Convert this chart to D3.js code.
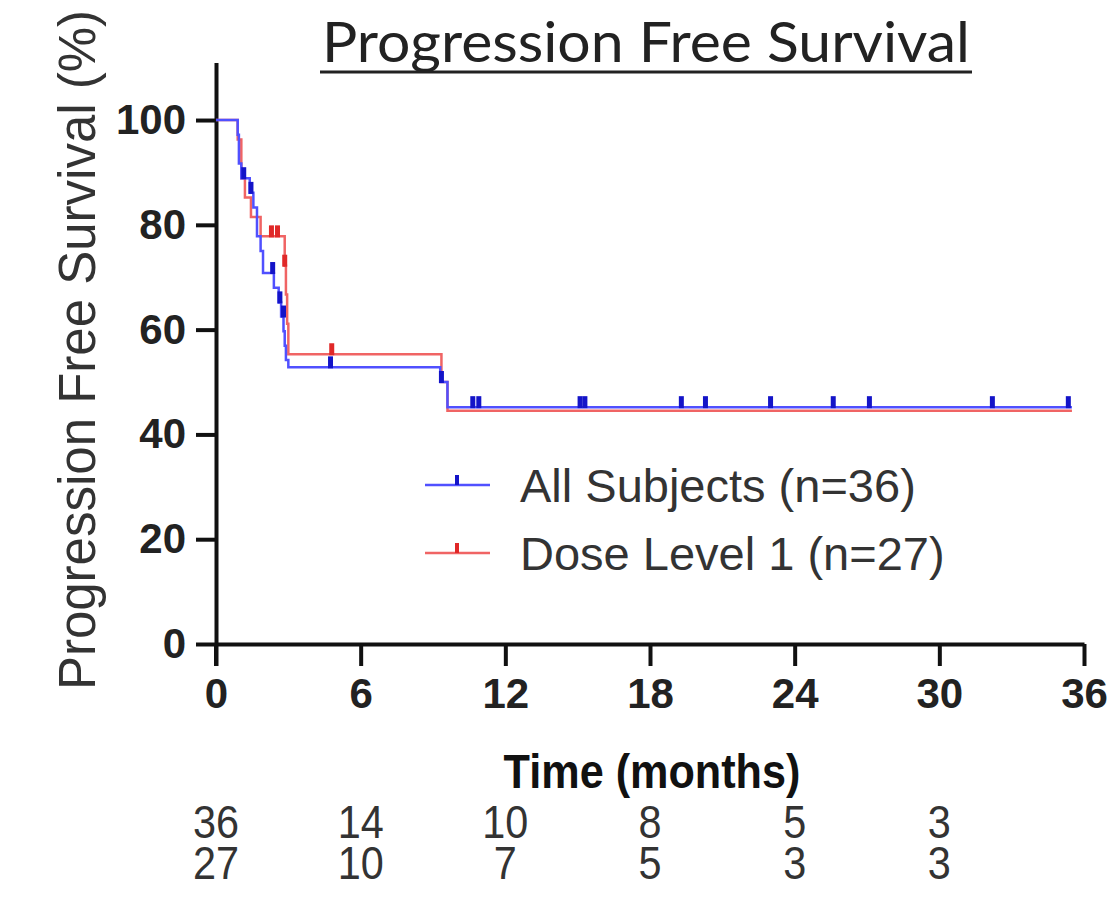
<!DOCTYPE html>
<html>
<head>
<meta charset="utf-8">
<script src="https://cdn.jsdelivr.net/npm/d3@7"></script>
<style>
  body { margin: 0; background: #fff; }
  svg { display: block; }
</style>
</head>
<body>
<div id="chart"></div>
<script>
// axis ticks
var xTicks = [0, 6, 12, 18, 24, 30, 36];
var yTicks = [0, 20, 40, 60, 80, 100];

// numbers at risk
var riskTimes = [0, 6, 12, 18, 24, 30];
var atRiskAll = [36, 14, 10, 8, 5, 3];
var atRiskDose = [27, 10, 7, 5, 3, 3];

// All Subjects (n=36): step times (months) and survival (%)
var allTimes = [0, 0.9, 0.95, 1.05, 1.4, 1.55, 1.7, 1.85, 1.95, 2.4, 2.6, 2.7, 2.8, 2.85, 2.9, 3.0, 9.3, 9.6, 35.5];
var allSurv = [100, 97.2, 91.7, 88.9, 86.1, 83.3, 77.8, 75.0, 70.8, 68.0, 65.2, 62.5, 59.7, 56.9, 54.2, 52.8, 50.0, 45.2, 45.2];
var allCensT = [1.15, 1.45, 2.35, 2.65, 2.8, 4.75, 9.35, 10.65, 10.9, 15.1, 15.3, 19.3, 20.3, 23.0, 25.6, 27.1, 32.2, 35.35];
var allCensS = [88.9, 86.1, 70.8, 65.2, 62.5, 52.8, 50.0, 45.2, 45.2, 45.2, 45.2, 45.2, 45.2, 45.2, 45.2, 45.2, 45.2, 45.2];

// Dose Level 1 (n=27)
var doseTimes = [0, 0.9, 1.05, 1.2, 1.45, 1.85, 2.85, 2.9, 2.95, 3.0, 9.35, 9.6, 35.5];
var doseSurv = [100, 96.3, 88.9, 85.2, 81.5, 77.8, 72.2, 66.7, 61.1, 55.3, 50.0, 44.5, 44.5];
var doseCensT = [2.3, 2.55, 2.85, 4.8];
var doseCensS = [77.8, 77.8, 72.2, 55.3];

var width = 1107, height = 897;
var blue = "#5050ff", blueDark = "#1414c8";
var red = "#f06464", redDark = "#e02828";
var font = "'Liberation Sans', Arial, sans-serif";

var svg = d3.select("#chart").append("svg")
    .attr("width", width)
    .attr("height", height);

var x = d3.scaleLinear().domain([0, 36]).range([216, 1084]);
var y = d3.scaleLinear().domain([0, 111]).range([644, 62.4]);

// title
svg.append("text")
    .attr("x", 646)
    .attr("y", 62)
    .attr("text-anchor", "middle")
    .attr("textLength", 648)
    .attr("lengthAdjust", "spacingAndGlyphs")
    .style("font-family", "Lato, 'Open Sans', sans-serif")
    .style("font-size", "56px")
    .style("fill", "#222")
    .text("Progression Free Survival");
svg.append("line")
    .attr("x1", 320).attr("x2", 972)
    .attr("y1", 72).attr("y2", 72)
    .attr("stroke", "#222")
    .attr("stroke-width", 3);

// y axis title
svg.append("text")
    .attr("transform", "translate(95,350) rotate(-90)")
    .attr("text-anchor", "middle")
    .style("font-family", font)
    .style("font-size", "51px")
    .style("fill", "#333")
    .text("Progression Free Survival (%)");

// axes
var yAxis = d3.axisLeft(y).tickValues(yTicks).tickSize(20).tickSizeOuter(0).tickPadding(10);
var xAxis = d3.axisBottom(x).tickValues(xTicks).tickSize(22).tickSizeOuter(0).tickPadding(12);

var gy = svg.append("g").attr("transform", "translate(216,0)").call(yAxis);
var gx = svg.append("g").attr("transform", "translate(0,644)").call(xAxis);

[gx, gy].forEach(function (g) {
    g.select(".domain").attr("stroke", "#111").attr("stroke-width", 4);
    g.selectAll(".tick line").attr("stroke", "#111").attr("stroke-width", 4);
    g.selectAll(".tick text")
        .attr("fill", "#222")
        .style("font-family", font)
        .style("font-weight", "bold")
        .style("font-size", "42px");
});
// extend y axis down through the x axis
svg.append("line")
    .attr("x1", 216).attr("x2", 216)
    .attr("y1", 644).attr("y2", 666)
    .attr("stroke", "#111").attr("stroke-width", 4);

// x axis title
svg.append("text")
    .attr("transform", "translate(652,788) scale(0.9,1)")
    .attr("text-anchor", "middle")
    .style("font-family", font)
    .style("font-weight", "bold")
    .style("font-size", "48px")
    .style("fill", "#111")
    .text("Time (months)");

// numbers at risk
[[atRiskAll, 838], [atRiskDose, 879]].forEach(function (row) {
    svg.append("g").selectAll("text")
        .data(row[0])
        .enter().append("text")
        .attr("transform", function (d, i) {
            return "translate(" + x(riskTimes[i]) + "," + row[1] + ") scale(0.9,1)";
        })
        .attr("text-anchor", "middle")
        .style("font-family", font)
        .style("font-size", "46px")
        .style("fill", "#333")
        .text(function (d) { return d; });
});

var line = d3.line()
    .x(function (d) { return x(d[0]); })
    .y(function (d) { return y(d[1]); })
    .curve(d3.curveStepAfter);

function drawCurve(times, surv, censT, censS, col, dark) {
    var pts = times.map(function (t, i) { return [t, surv[i]]; });
    svg.append("path")
        .datum(pts)
        .attr("d", line)
        .attr("fill", "none")
        .attr("stroke", col)
        .attr("stroke-width", 2.5);
    svg.append("g").selectAll("line")
        .data(censT)
        .enter().append("line")
        .attr("x1", function (d) { return x(d); })
        .attr("x2", function (d) { return x(d); })
        .attr("y1", function (d, i) { return y(censS[i]) + 1; })
        .attr("y2", function (d, i) { return y(censS[i]) - 11; })
        .attr("stroke", dark)
        .attr("stroke-width", 5);
}

drawCurve(doseTimes, doseSurv, doseCensT, doseCensS, red, redDark);
drawCurve(allTimes, allSurv, allCensT, allCensS, blue, blueDark);

// legend
var legendItems = [
    { label: "All Subjects (n=36)", col: blue, dark: blueDark, y: 485 },
    { label: "Dose Level 1 (n=27)", col: red, dark: redDark, y: 553 }
];
var lg = svg.selectAll("g.legend")
    .data(legendItems)
    .enter().append("g")
    .attr("class", "legend");
lg.append("line")
    .attr("x1", 425).attr("x2", 490)
    .attr("y1", function (d) { return d.y; })
    .attr("y2", function (d) { return d.y; })
    .attr("stroke", function (d) { return d.col; })
    .attr("stroke-width", 2.5);
lg.append("line")
    .attr("x1", 457).attr("x2", 457)
    .attr("y1", function (d) { return d.y; })
    .attr("y2", function (d) { return d.y - 10; })
    .attr("stroke", function (d) { return d.dark; })
    .attr("stroke-width", 4);
lg.append("text")
    .attr("x", 520)
    .attr("y", function (d) { return d.y + 17; })
    .style("font-family", font)
    .style("font-size", "47px")
    .style("fill", "#333")
    .text(function (d) { return d.label; });
</script>
</body>
</html>
